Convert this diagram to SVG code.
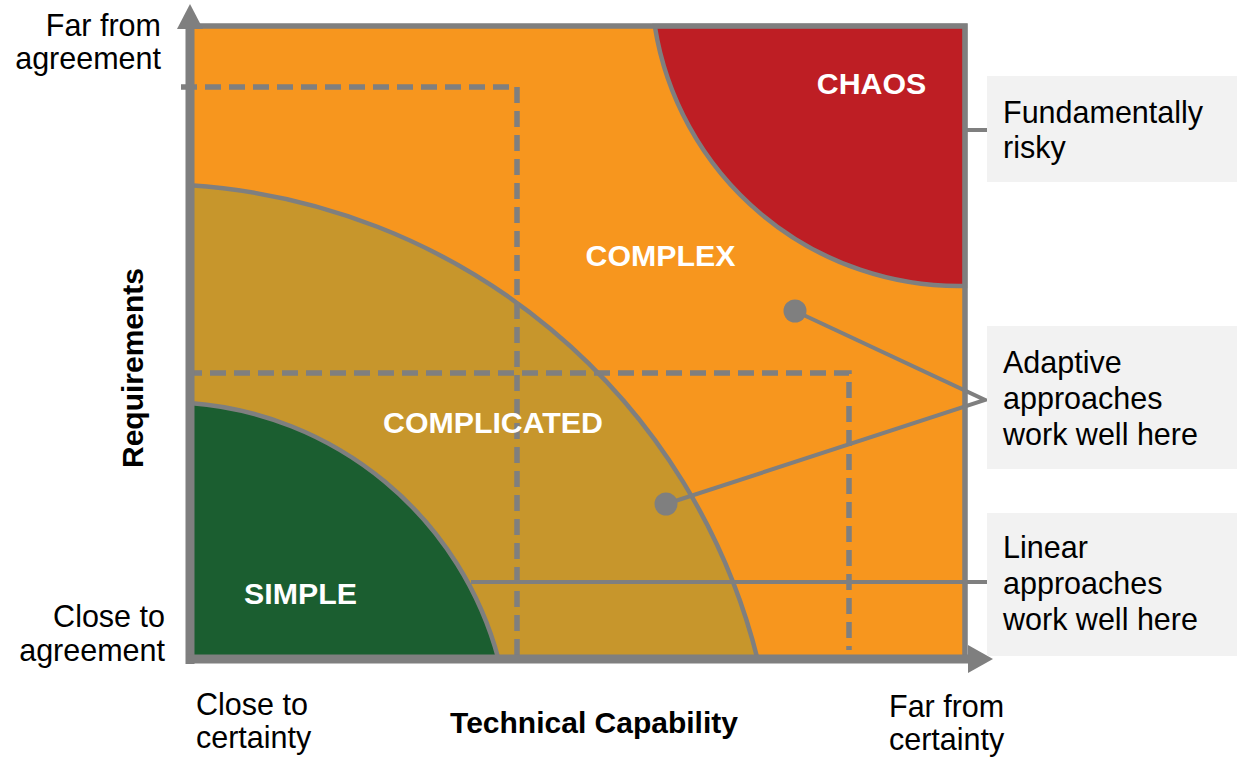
<svg xmlns="http://www.w3.org/2000/svg" width="1237" height="759" viewBox="0 0 1237 759">
<style>
text{font-family:"Liberation Sans",Arial,sans-serif;}
.lbl{font-size:30.5px;fill:#000;}
.ax{font-size:30px;font-weight:bold;fill:#000;}
.reg{font-size:30.3px;font-weight:bold;fill:#fff;text-anchor:middle;}
.edge{stroke:#7f7f7f;stroke-width:4.5;}
.dash{fill:none;stroke:#7f7f7f;stroke-width:5.5;stroke-dasharray:16 8;}
.conn{fill:none;stroke:#7f7f7f;stroke-width:4;}
.box{fill:#f2f2f2;}
.dot{fill:#7f7f7f;}
</style>
<g id="regions">
<rect id="complex-bg" x="190" y="26" width="775" height="633" fill="#f7961e"/>
<g id="complicated"><path d="M190 659 L190 185.3 A626 626 0 0 1 757.5 659 Z" fill="#c7962c" class="edge"/></g>
<g id="simple"><path d="M190 659 L190 403 A346 346 0 0 1 498.4 659 Z" fill="#1b5e30" class="edge"/></g>
<g id="chaos"><path d="M965 26 L654.8 26 A308 308 0 0 0 965 286 Z" fill="#be1e24" class="edge"/></g>
</g>
<g id="dashed">
<path class="dash" d="M181 87 H517 V655"/>
<path class="dash" d="M186 373 H849 V650"/>
</g>
<g id="connectors">
<path class="conn" d="M965 130 H987"/>
<path class="conn" d="M471 582 H987"/>
<path class="conn" d="M795 311 L985 400 L666 504"/>
<circle class="dot" cx="795" cy="311" r="11.5"/>
<circle class="dot" cx="666" cy="504" r="11.5"/>
</g>
<g id="frame">
<path d="M190 26 H965 V659" fill="none" stroke="#7f7f7f" stroke-width="5.5"/>
<path d="M190 664 V28" stroke="#7f7f7f" stroke-width="9"/>
<polygon points="177,29 190,4 203,29" fill="#7f7f7f"/>
<path d="M186 659 H969" stroke="#7f7f7f" stroke-width="9"/>
<polygon points="968,645 993,659 968,673" fill="#7f7f7f"/>
</g>
<g id="region-labels">
<text class="reg" x="871.5" y="94">CHAOS</text>
<text class="reg" x="660.5" y="266">COMPLEX</text>
<text class="reg" x="493" y="433">COMPLICATED</text>
<text class="reg" x="300.5" y="604">SIMPLE</text>
</g>
<g id="axis-labels">
<text class="lbl" text-anchor="end" x="161" y="36">Far from</text>
<text class="lbl" text-anchor="end" x="161" y="69">agreement</text>
<text class="lbl" text-anchor="end" x="165" y="627">Close to</text>
<text class="lbl" text-anchor="end" x="165" y="661">agreement</text>
<text class="ax" text-anchor="middle" transform="translate(143 368) rotate(-90)">Requirements</text>
<text class="lbl" x="196" y="715">Close to</text>
<text class="lbl" x="196" y="748">certainty</text>
<text class="ax" text-anchor="middle" x="594" y="733">Technical Capability</text>
<text class="lbl" x="889" y="717">Far from</text>
<text class="lbl" x="889" y="750">certainty</text>
</g>
<g id="note-risky">
<rect class="box" x="987" y="76" width="250" height="106"/>
<text class="lbl" x="1003" y="123">Fundamentally</text>
<text class="lbl" x="1003" y="158">risky</text>
</g>
<g id="note-adaptive">
<rect class="box" x="987" y="326" width="250" height="143"/>
<text class="lbl" x="1003" y="373">Adaptive</text>
<text class="lbl" x="1003" y="409">approaches</text>
<text class="lbl" x="1003" y="445">work well here</text>
</g>
<g id="note-linear">
<rect class="box" x="987" y="513" width="250" height="143"/>
<text class="lbl" x="1003" y="558">Linear</text>
<text class="lbl" x="1003" y="594">approaches</text>
<text class="lbl" x="1003" y="630">work well here</text>
</g>
</svg>
